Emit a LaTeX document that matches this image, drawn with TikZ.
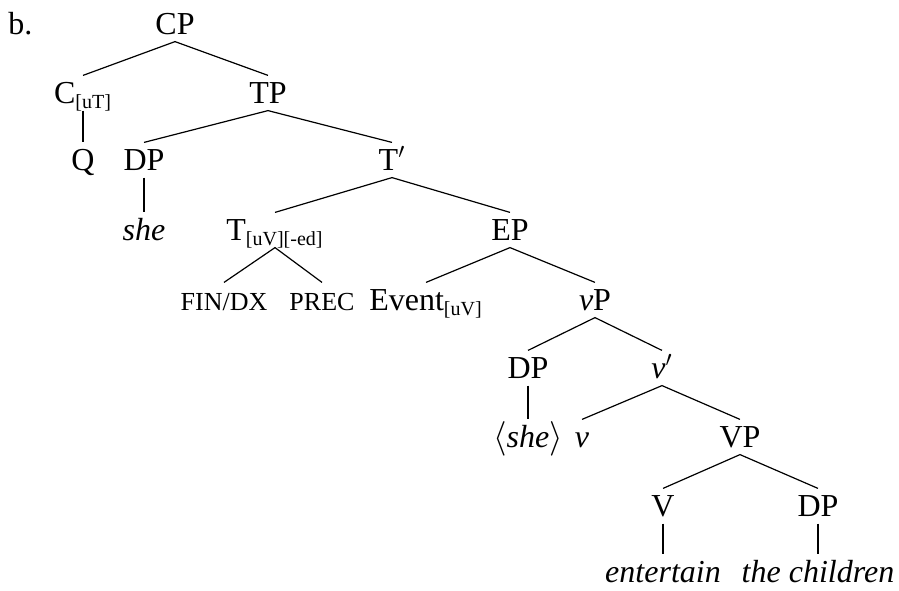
\documentclass[tikz,border=0pt]{standalone}
\usepackage{fontspec}
\setmainfont{Liberation Serif}
\newcommand{\featsub}[1]{\textsubscript{\fontsize{10}{11}\selectfont #1}}
\newcommand{\smcap}[1]{{\fontsize{13}{15}\selectfont #1}}
\begin{document}
\begin{tikzpicture}[x=0.5pt,y=-0.5pt,
  every node/.style={font=\fontsize{16}{19}\selectfont,text height=10.6pt,text depth=0pt,inner xsep=1pt,inner ysep=3.3pt},
  branch/.style={line width=0.6pt},
  unary/.style={line width=1.1pt}]
\useasboundingbox (0,0) rectangle (899,590);
\node[anchor=base west,inner sep=0pt] (lbl) at (8,34) {b.};
% row 0-1
\node (cp) at (175,24) {CP};
\node (c) at (83,93) {C\featsub{[uT]}};
\node (tp) at (268,93) {TP};
% row 2
\node (q) at (83,160) {Q};
\node (dpa) at (144,160) {DP};
\node (tbar) at (392,160) {T$'$};
% row 3
\node (she) at (144,230) {\textit{she}};
\node (t) at (275,230) {T\featsub{[uV][-ed]}};
\node (ep) at (510,230) {EP};
% row 4
\node (fin) at (224,300) {\smcap{FIN/DX}};
\node (prec) at (322,300) {\smcap{PREC}};
\node (ev) at (426,300) {Event\featsub{[uV]}};
\node (vp) at (595,300) {\textit{v}P};
% row 5-6
\node (dpb) at (528,368) {DP};
\node (vbar) at (662,368) {\textit{v}$'$};
\node (sheb) at (528,437) {$\langle$\textit{she}$\rangle$};
\node (v) at (582,437) {\textit{v}};
\node (vpb) at (740,437) {VP};
% row 7-8
\node (vv) at (663,506) {V};
\node (dpc) at (818,506) {DP};
\node (ent) at (663,572) {\textit{entertain}};
\node (chi) at (818,572) {\textit{the children}};
\draw[branch] (c.north) -- (cp.south) -- (tp.north);
\draw[branch] (dpa.north) -- (tp.south) -- (tbar.north);
\draw[branch] (t.north) -- (tbar.south) -- (ep.north);
\draw[branch] (fin.north) -- (t.south) -- (prec.north);
\draw[branch] (ev.north) -- (ep.south) -- (vp.north);
\draw[branch] (dpb.north) -- (vp.south) -- (vbar.north);
\draw[branch] (v.north) -- (vbar.south) -- (vpb.north);
\draw[branch] (vv.north) -- (vpb.south) -- (dpc.north);
\draw[unary] (c.south) -- (q.north);
\draw[unary] (dpa.south) -- (she.north);
\draw[unary] (dpb.south) -- (sheb.north);
\draw[unary] (vv.south) -- (ent.north);
\draw[unary] (dpc.south) -- (chi.north);
\end{tikzpicture}
\end{document}
